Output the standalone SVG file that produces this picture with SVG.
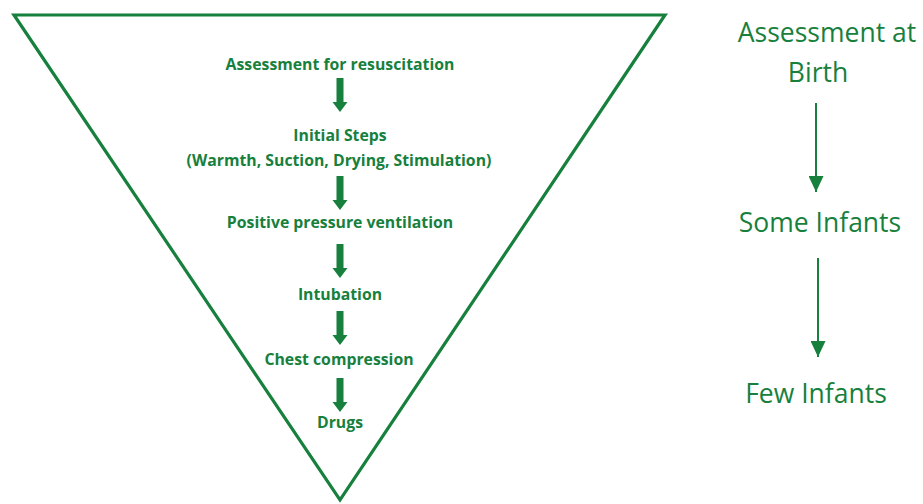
<svg xmlns="http://www.w3.org/2000/svg" width="923" height="504" viewBox="0 0 923 504">
<defs>
<style>
.g{fill:#17803d}
.t{font-family:"Open Sans","Noto Sans",sans-serif;fill:#17803d;text-anchor:middle}
.l{font-size:15.8px;font-weight:700}
.r{font-size:26.5px;font-weight:500}
.c{stroke:#17803d;stroke-width:2;fill:none}
</style>
<marker id="ah" viewBox="0 0 16 15" refX="16" refY="7.5" markerWidth="16" markerHeight="15" markerUnits="userSpaceOnUse" orient="auto">
<path d="M0,0 L16,7.5 L0,15 Z" fill="#17803d"/>
</marker>
<path id="ba" d="M-3.5,0 H3.5 V24 H7.5 L0,34 L-7.5,24 H-3.5 Z"/>
</defs>
<rect width="923" height="504" fill="#fff"/>
<g id="funnel">
<path d="M14,15 H665 L340,500 Z" fill="none" stroke="#17803d" stroke-width="3.2" stroke-linejoin="miter"/>
</g>
<g id="step-assessment"><text class="t l" x="340" y="70">Assessment for resuscitation</text></g>
<g id="step-initial"><text class="t l" x="340" y="141">Initial Steps</text><text class="t l" x="339" y="166">(Warmth, Suction, Drying, Stimulation)</text></g>
<g id="step-ppv"><text class="t l" x="340" y="228">Positive pressure ventilation</text></g>
<g id="step-intubation"><text class="t l" x="340" y="300">Intubation</text></g>
<g id="step-chest"><text class="t l" x="339" y="365">Chest compression</text></g>
<g id="step-drugs"><text class="t l" x="340" y="428">Drugs</text></g>
<g id="right-birth"><text class="t r" x="827" y="42">Assessment at</text><text class="t r" x="818" y="82">Birth</text></g>
<g id="right-some"><text class="t r" x="820" y="232">Some Infants</text></g>
<g id="right-few"><text class="t r" x="816" y="403">Few Infants</text></g>
<g id="connectors">
<use href="#ba" class="g" x="340" y="78"/>
<use href="#ba" class="g" x="340" y="176"/>
<use href="#ba" class="g" x="340" y="244"/>
<use href="#ba" class="g" x="340" y="311"/>
<use href="#ba" class="g" x="340" y="378"/>
<line class="c" x1="816" y1="103" x2="816" y2="192" marker-end="url(#ah)"/>
<line class="c" x1="818" y1="258" x2="818" y2="357" marker-end="url(#ah)"/>
</g>
</svg>
